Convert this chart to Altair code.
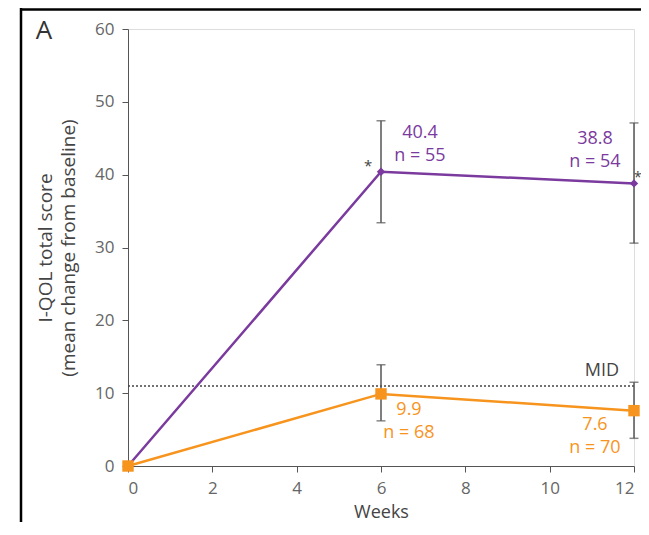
import altair as alt
import pandas as pd

weeks = [0, 6, 12]
treat_mean = [0, 40.4, 38.8]
treat_lo = [0, 33.4, 30.6]
treat_hi = [0, 47.4, 47.1]
treat_n = [None, 55, 54]
ctrl_mean = [0, 9.9, 7.6]
ctrl_lo = [0, 6.2, 3.8]
ctrl_hi = [0, 13.9, 11.5]
ctrl_n = [None, 68, 70]
mid_value = 11

PURPLE = "#7B3A9E"
ORANGE = "#F7941D"
GRAY = "#555555"
LGRAY = "#666666"
FONT = "Open Sans"

treat = pd.DataFrame({"week": weeks, "mean": treat_mean, "lo": treat_lo, "hi": treat_hi})
ctrl = pd.DataFrame({"week": weeks, "mean": ctrl_mean, "lo": ctrl_lo, "hi": ctrl_hi})

W, H = 506, 437
xs = alt.Scale(domain=[0, 12], nice=False)
ys = alt.Scale(domain=[0, 60], nice=False)

x_enc = alt.X("week:Q", scale=xs, axis=alt.Axis(
    values=[0, 2, 4, 6, 8, 10, 12], title="Weeks", grid=False,
    domainColor=GRAY, tickColor=GRAY, tickSize=6, labelColor=LGRAY, labelFontSize=17,
    labelFont=FONT, labelPadding=8, titleFont=FONT, titleFontSize=18, titleColor="#444",
    titleFontWeight="normal", titleBaseline="alphabetic", titleY=51))
y_enc = alt.Y("mean:Q", scale=ys, axis=alt.Axis(
    values=[0, 10, 20, 30, 40, 50, 60], title=["I-QOL total score", "(mean change from baseline)"],
    grid=False, domainColor=GRAY, tickColor=GRAY, tickSize=6, labelColor=LGRAY,
    labelFontSize=17, labelFont=FONT, labelPadding=8, titleFont=FONT, titleFontSize=19,
    titleColor="#444", titleFontWeight="normal", titleAngle=-90, titleAlign="center",
    titleBaseline="bottom", titleX=-73, titleY=H / 2, titleLineHeight=23))

layers = []

# MID dotted line
mid_df = pd.DataFrame({"y": [mid_value]})
layers.append(alt.Chart(mid_df).mark_rule(color="#444", strokeDash=[2, 2], strokeWidth=1.5)
              .encode(y=alt.Y("y:Q", scale=ys)))
layers.append(alt.Chart(mid_df).mark_text(text="MID", font=FONT, fontSize=18, color="#444",
                                          dy=-15, align="center")
              .encode(y=alt.Y("y:Q", scale=ys), x=alt.value(474)))

def series(df, color, shape, size):
    base = alt.Chart(df)
    err = df[df["week"] > 0]
    eb = alt.Chart(err)
    return [
        eb.mark_rule(color=GRAY, strokeWidth=1.5).encode(
            x=alt.X("week:Q", scale=xs), y=alt.Y("lo:Q", scale=ys), y2="hi:Q"),
        eb.mark_tick(orient="horizontal", color=GRAY, size=9, thickness=1.5).encode(
            x=alt.X("week:Q", scale=xs), y=alt.Y("lo:Q", scale=ys)),
        eb.mark_tick(orient="horizontal", color=GRAY, size=9, thickness=1.5).encode(
            x=alt.X("week:Q", scale=xs), y=alt.Y("hi:Q", scale=ys)),
        base.mark_line(color=color, strokeWidth=2.5).encode(x=x_enc, y=y_enc),
        base.mark_point(shape=shape, filled=True, color=color, size=size, opacity=1).encode(
            x=alt.X("week:Q", scale=xs), y=alt.Y("mean:Q", scale=ys)),
    ]

layers += series(treat, PURPLE, "diamond", 70)
layers += series(ctrl, ORANGE, "square", 130)

def label(df, i, nlist, color, dx, dy):
    row = df.iloc[[i]].copy()
    row["lab"] = [[f"{df['mean'].iloc[i]:.1f}", f"n = {nlist[i]}"]]
    return alt.Chart(row).mark_text(color=color, font=FONT, fontSize=18, dx=dx, dy=dy,
                                    align="center", baseline="middle", lineHeight=23).encode(
        x=alt.X("week:Q", scale=xs), y=alt.Y("mean:Q", scale=ys), text="lab:N")

layers.append(label(treat, 1, treat_n, PURPLE, 39, -39))
layers.append(label(treat, 2, treat_n, PURPLE, -39, -44))
layers.append(label(ctrl, 1, ctrl_n, ORANGE, 28, 16))
layers.append(label(ctrl, 2, ctrl_n, ORANGE, -39, 14))

# significance stars
layers.append(alt.Chart(treat.iloc[[1]]).mark_text(text="*", fontSize=15, font=FONT, color="#444",
                                                   dx=-13, dy=-6)
              .encode(x=alt.X("week:Q", scale=xs), y=alt.Y("mean:Q", scale=ys)))
layers.append(alt.Chart(treat.iloc[[2]]).mark_text(text="*", fontSize=14, font=FONT, color="#444",
                                                   dx=0, dy=-5, align="left")
              .encode(x=alt.X("week:Q", scale=xs), y=alt.Y("mean:Q", scale=ys)))

# panel letter and frame
dummy = pd.DataFrame({"a": [0]})
layers.append(alt.Chart(dummy).mark_text(text="A", fontSize=26, font=FONT, color="#333",
                                         baseline="alphabetic")
              .encode(x=alt.value(-84), y=alt.value(10)))
layers.append(alt.Chart(dummy).mark_rule(color="black", strokeWidth=2.5)
              .encode(x=alt.value(-107), y=alt.value(-21), y2=alt.value(520)))
layers.append(alt.Chart(dummy).mark_rule(color="black", strokeWidth=2.5)
              .encode(x=alt.value(-108), x2=alt.value(521), y=alt.value(-19.5)))

chart = alt.layer(*layers).properties(
    width=W, height=H,
    autosize=alt.AutoSizeParams(type="none"),
    padding={"left": 120, "top": 21, "right": 7, "bottom": 56},
).configure_view(stroke=None).configure(background="white")

chart.save("out.html", embed_options={"renderer": "svg", "actions": False})
